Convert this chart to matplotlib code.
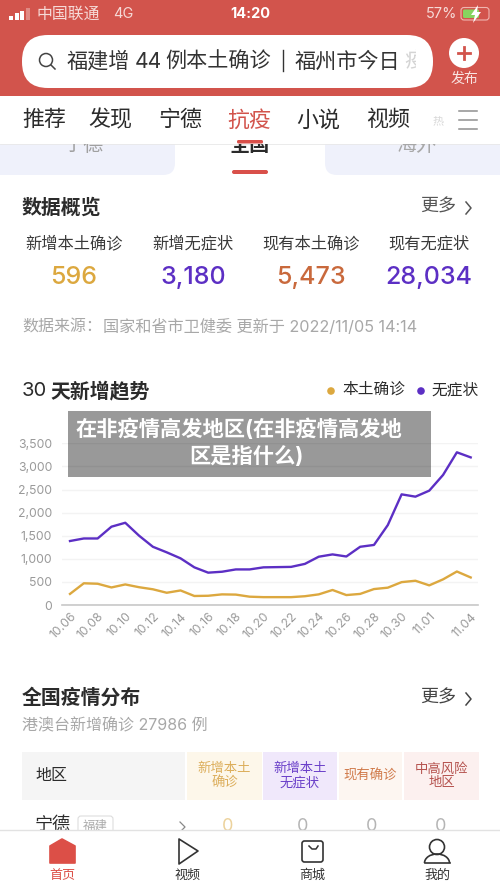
import matplotlib
matplotlib.use('Agg')
import matplotlib.pyplot as plt
from matplotlib.patches import Rectangle, FancyBboxPatch, Circle, Polygon, Arc

plt.rcParams['font.family'] = ['Inter', 'Noto Sans CJK SC', 'DejaVu Sans']

# chart data
dates = ['10.06', '10.07', '10.08', '10.09', '10.10', '10.11', '10.12', '10.13', '10.14', '10.15',
         '10.16', '10.17', '10.18', '10.19', '10.20', '10.21', '10.22', '10.23', '10.24', '10.25',
         '10.26', '10.27', '10.28', '10.29', '10.30', '10.31', '11.01', '11.02', '11.03', '11.04']
local_cases = [240, 470, 460, 380, 445, 385, 340, 265, 315, 195,
               200, 230, 225, 180, 170, 170, 170, 190, 230, 325,
               215, 240, 345, 375, 495, 525, 425, 555, 725, 596]
asymptomatic = [1385, 1440, 1440, 1695, 1780, 1500, 1260, 1140, 1010, 815,
                700, 720, 770, 770, 815, 820, 825, 890, 1045, 1095,
                1050, 1260, 1300, 1730, 2395, 2345, 2475, 2815, 3305, 3195]
y_ticks = [0, 500, 1000, 1500, 2000, 2500, 3000, 3500]
shown_dates = ['10.06', '10.08', '10.10', '10.12', '10.14', '10.16', '10.18', '10.20', '10.22',
               '10.24', '10.26', '10.28', '10.30', '11.01', '11.04']

# page text
nav_items = ['推荐', '发现', '宁德', '抗疫', '小说', '视频']
overview_labels = ['新增本土确诊', '新增无症状', '现有本土确诊', '现有无症状']
overview_values = ['596', '3,180', '5,473', '28,034']
table_headers = ['新增本土\n确诊', '新增本土\n无症状', '现有确诊', '中高风险\n地区']
row_values = ['0', '0', '0', '0']
bottom_items = ['首页', '视频', '商城', '我的']

RED = '#d2544c'
YELLOW = '#dca83f'
PURPLE = '#5c2fc4'
ORANGE = '#c9693c'
DARK = '#2b2b2b'
GRAY = '#a8a8a8'

W, H = 500, 889
fig = plt.figure(figsize=(W / 100, H / 100), dpi=100, facecolor='white')


def pixel_axes(zorder):
    a = fig.add_axes([0, 0, 1, 1], zorder=zorder)
    a.set_xlim(0, W)
    a.set_ylim(H, 0)
    a.axis('off')
    a.patch.set_alpha(0)
    return a


ui = pixel_axes(0)
top = pixel_axes(3)


def txt(a, x, y, s, size, color=DARK, ha='center', weight='normal', **kw):
    return a.text(x, y + 1.5, s, fontsize=size, color=color, ha=ha, va='center', fontweight=weight, **kw)


def box(a, x0, y0, x1, y1, color, **kw):
    a.add_patch(Rectangle((x0, y0), x1 - x0, y1 - y0, facecolor=color, edgecolor='none', **kw))


def pill(a, x0, y0, x1, y1, r, fc, ec='none', lw=0, **kw):
    a.add_patch(FancyBboxPatch((x0 + r, y0 + r), x1 - x0 - 2 * r, y1 - y0 - 2 * r,
                               boxstyle='round,pad=%s,rounding_size=%s' % (r, r),
                               facecolor=fc, edgecolor=ec, linewidth=lw, **kw))


# tab strip under the nav, scrolled partly out of view
pill(ui, -20, 120, 175, 175, 12, '#eff1fb')
pill(ui, 325, 120, 520, 175, 12, '#eff1fb')
clip = Rectangle((0, 143.5), W, 40, transform=ui.transData)
for x, s, c, w in [(84, '宁德', '#a0a0a0', 'normal'), (250, '全国', DARK, 'bold'), (416, '海外', '#a8a8a8', 'normal')]:
    t = txt(ui, x, 144, s, 14.5, c, weight=w, clip_on=True)
    t.set_clip_path(clip)
pill(ui, 232, 170, 268, 174, 2, '#d9504a')

# header
box(ui, 0, 0, W, 96, RED)
box(ui, 0, 96, W, 143.5, 'white')
ui.plot([0, W], [143.5, 143.5], color='#e8e8e8', lw=0.6)
for i, h in enumerate([4, 6.5, 9, 12]):
    box(ui, 9 + i * 5.6, 19.5 - h, 13 + i * 5.6, 19.5, 'white' if i < 3 else '#e08a84')
txt(ui, 37, 13, '中国联通', 11.4, '#f6dad7', ha='left')
txt(ui, 113, 13, '4G', 10.5, '#f6dad7', ha='left')
txt(ui, 250, 13, '14:20', 10.5, 'white', weight='bold')
txt(ui, 457, 13, '57%', 10.5, '#f6dad7', ha='right')
pill(ui, 461, 7.5, 489, 20, 3, 'none', ec='#f0b5b0', lw=0.8)
pill(ui, 463, 9.5, 479, 18, 1.5, '#86d45f')
ui.add_patch(Polygon([(478, 5), (471, 15), (475, 15), (473, 23), (481, 12), (477, 12)], facecolor='white'))

pill(ui, 22, 35, 433, 88, 26, 'white')
ui.add_patch(Circle((46, 60), 6.5, facecolor='none', edgecolor='#444444', lw=1.1))
ui.plot([51, 55], [65, 69], color='#444444', lw=1.1)
search_parts = [(67, '福建增'), (135, '44'), (165, '例本土确诊'), (295, '福州市今日')]
for x, s in search_parts:
    txt(ui, x, 60, s, 15.2, '#333333', ha='left')
ui.plot([283, 283], [50, 71], color='#333333', lw=1)
fade = txt(ui, 404, 60, '疫', 15.2, '#d4d4d4', ha='left', clip_on=True)
fade.set_clip_path(Rectangle((402, 40), 14, 40, transform=ui.transData))
ui.add_patch(Circle((464, 53), 15, facecolor='white', edgecolor='none'))
ui.plot([458, 470], [53, 53], color=RED, lw=2)
ui.plot([464, 464], [47, 59], color=RED, lw=2)
txt(ui, 464, 77, '发布', 10, '#f8e3e1')

nav_x = [44, 110, 180, 249, 318, 388]
for x, s in zip(nav_x, nav_items):
    txt(ui, x, 118.5, s, 15.8, RED if s == '抗疫' else DARK)
txt(ui, 438, 120, '热', 8, '#d8d8d8')
for y in [111, 120, 129]:
    ui.plot([459, 477], [y, y], color='#8f8f8f', lw=1.1)
pill(ui, 237, 140, 263, 143.5, 1.5, '#d9504a')

# overview section
txt(ui, 22, 206, '数据概览', 14.3, weight='bold', ha='left')
txt(ui, 420, 206, '更多', 13, '#555555', ha='left')
ui.plot([466, 471, 466], [202, 208, 214], color='#555555', lw=1.1)
ov_x = [74, 193, 311, 429]
ov_colors = [YELLOW, PURPLE, ORANGE, PURPLE]
for x, lab, val, c in zip(ov_x, overview_labels, overview_values, ov_colors):
    txt(ui, x, 242, lab, 11.7, '#3a3a3a')
    txt(ui, x, 276, val, 18, c, weight='medium')
txt(ui, 22, 325, '数据来源：', 11.5, GRAY, ha='left')
txt(ui, 103, 325, '国家和省市卫健委 更新于 2022/11/05 14:14', 11.65, GRAY, ha='left')

# trend section
txt(ui, 22, 390, '30', 14.5, ha='left')
txt(ui, 50, 390, '天新增趋势', 14.3, weight='bold', ha='left')
ui.add_patch(Circle((331, 391), 3.8, facecolor=YELLOW, edgecolor='none'))
txt(ui, 342, 388, '本土确诊', 11.3, ha='left')
ui.add_patch(Circle((421, 391), 3.8, facecolor=PURPLE, edgecolor='none'))
txt(ui, 431, 388, '无症状', 11.3, ha='left')

# line chart, axes placed in page pixels
px_left, px_right, px_bottom, px_top = 62, 478, 605, 443.3
ax = fig.add_axes([px_left / W, 1 - px_bottom / H, (px_right - px_left) / W, (px_bottom - px_top) / H], zorder=1)
ax.patch.set_alpha(0)
x = list(range(len(dates)))
ax.plot(x, local_cases, color=YELLOW, lw=1.7, solid_joinstyle='round', zorder=3)
ax.plot(x, asymptomatic, color=PURPLE, lw=1.7, solid_joinstyle='round', zorder=4)
step = (470.7 - 70) / (len(dates) - 1)
ax.set_xlim(-(70 - px_left) / step, len(dates) - 1 + (px_right - 470.7) / step)
ax.set_ylim(0, 3500)
ax.set_xticks([dates.index(d) for d in shown_dates])
ax.set_xticklabels(shown_dates, rotation=45, ha='right', va='top', rotation_mode='anchor')
ax.set_yticks(y_ticks)
ax.set_yticklabels([format(v, ',') for v in y_ticks])
ax.tick_params(axis='both', length=0, labelsize=8.8, labelcolor='#9a9a9a')
ax.tick_params(axis='y', pad=7)
ax.tick_params(axis='x', pad=4)
ax.grid(axis='y', color='#f3f3f3', lw=1)
ax.set_axisbelow(True)
for side in ['top', 'left', 'right']:
    ax.spines[side].set_visible(False)
ax.spines['bottom'].set_color('#c8c8c8')
ax.spines['bottom'].set_linewidth(1.2)

# grey title banner over the chart
box(top, 68, 411, 431, 477, (0, 0, 0, 0.4))
txt(top, 238.5, 428, '在非疫情高发地区(在非疫情高发地', 15.3, 'white', weight='bold')
txt(top, 246, 455, '区是指什么)', 15.3, 'white', weight='bold')

# distribution section
txt(ui, 22, 696, '全国疫情分布', 14.3, weight='bold', ha='left')
txt(ui, 420, 697, '更多', 13, '#444444', ha='left')
ui.plot([466, 471, 466], [693, 699, 705], color='#444444', lw=1.1)
txt(ui, 22, 724, '港澳台新增确诊 27986 例', 11.5, GRAY, ha='left')

box(ui, 22, 752, 185, 800, '#f5f5f5')
txt(ui, 35, 774, '地区', 11.5, ha='left')
cell_edges = [(187, 262), (263, 337), (339, 402), (404, 479)]
cell_fill = ['#fdf7ea', '#f0e8fb', '#fdf6f1', '#fcf0ef']
cell_text = ['#dcae5b', '#6a3fc9', '#d07a4a', '#b5524e']
for (x0, x1), f, c, s in zip(cell_edges, cell_fill, cell_text, table_headers):
    box(ui, x0, 752, x1, 800, f)
    txt(ui, (x0 + x1) / 2, 774.5, s, 9.6, c, linespacing=1.15)

txt(ui, 35, 824, '宁德', 13, ha='left')
pill(ui, 78, 816, 113, 840, 3, 'white', ec='#dddddd', lw=0.8)
txt(ui, 95.5, 825, '福建', 9, '#aaaaaa')
ui.plot([180, 185, 180], [822, 827, 832], color='#888888', lw=0.9)
row_x = [228, 303, 372, 441]
row_colors = ['#ecd29c', '#b5b5b5', '#b5b5b5', '#b5b5b5']
for x0, s, c in zip(row_x, row_values, row_colors):
    txt(ui, x0, 825, s, 13, c)

# bottom bar
box(top, 0, 830, W, H, 'white')
top.plot([0, W], [830, 830], color='#e2e2e2', lw=1)
top.add_patch(Polygon([(50, 846), (62, 839), (75, 846), (75, 863), (50, 863)], closed=True,
                      facecolor='#dc4f47', edgecolor='#dc4f47', lw=1.2, joinstyle='round'))
top.add_patch(Polygon([(179, 839), (198, 851), (179, 864)], closed=True,
                      facecolor='white', edgecolor='#333333', lw=1.2, joinstyle='round'))
pill(top, 302, 841, 323, 862, 2.5, 'white', ec='#333333', lw=1.2)
top.plot([309, 312, 316, 318], [846, 849, 849, 846], color='#333333', lw=1.1)
top.add_patch(Circle((437, 847), 7.5, facecolor='white', edgecolor='#333333', lw=1.2))
top.add_patch(Arc((437, 863), 25, 18, theta1=180, theta2=360, edgecolor='#333333', lw=1.2))
top.plot([424.5, 449.5], [863, 863], color='#333333', lw=1.2)
bottom_x = [62, 187, 312, 437]
for x0, s in zip(bottom_x, bottom_items):
    txt(top, x0, 874, s, 9.4, '#dc4f47' if s == '首页' else '#333333')

fig.savefig('out.png', dpi=100)
